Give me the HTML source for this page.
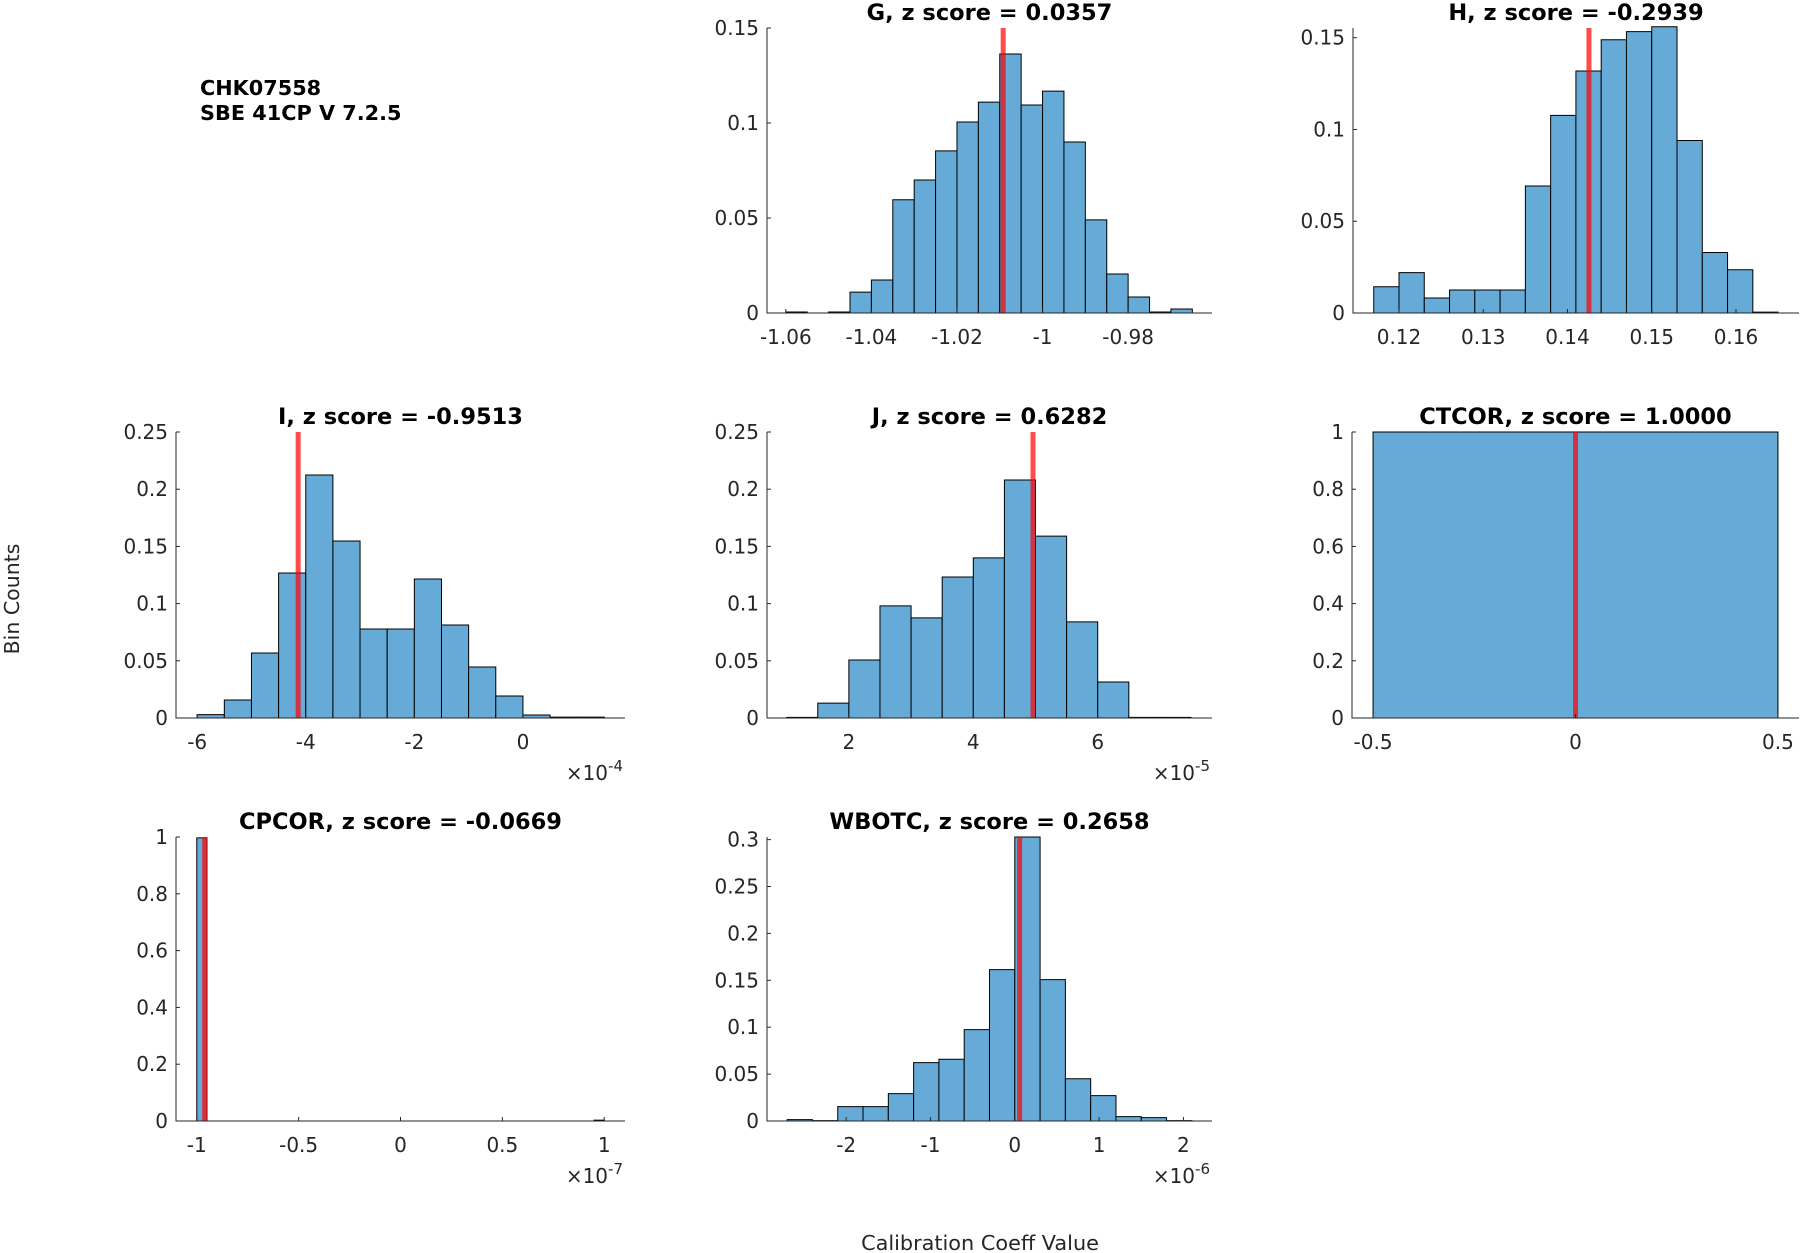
<!DOCTYPE html>
<html><head><meta charset="utf-8">
<style>
html,body{margin:0;padding:0;background:#fff;}
svg{display:block;font-family:"DejaVu Sans","Liberation Sans",sans-serif;}
</style></head>
<body>
<svg id="fig" width="1801" height="1253" viewBox="0 0 1801 1253" xmlns="http://www.w3.org/2000/svg">
<text x="200" y="95" font-size="20.8" font-weight="bold" fill="#000">CHK07558</text>
<text x="200" y="120" font-size="20.8" font-weight="bold" fill="#000">SBE 41CP V 7.2.5</text>
<text transform="translate(19,599) rotate(-90)" text-anchor="middle" font-size="20.5" fill="#262626">Bin Counts</text>
<text x="980" y="1250" text-anchor="middle" font-size="20.8" fill="#262626">Calibration Coeff Value</text>
</svg>
<script>
// ---- data ----
const gBinStart = -1.06, gBinWidth = 0.005;
const gValues = [0.0005,0,0.0005,0.011,0.0174,0.0596,0.070,0.0853,0.1005,0.111,0.1363,0.1095,0.1168,0.090,0.049,0.0205,0.0084,0.0005,0.0021];
const gRef = -1.0092;
const gXTicks = [-1.06,-1.04,-1.02,-1,-0.98];
const gXTickLabels = ["-1.06","-1.04","-1.02","-1","-0.98"];
const gYTicks = [0,0.05,0.1,0.15];
const gYTickLabels = ["0","0.05","0.1","0.15"];

const hBinStart = 0.117, hBinWidth = 0.003;
const hValues = [0.0143,0.022,0.0082,0.0125,0.0125,0.0125,0.0692,0.1077,0.1319,0.1489,0.1533,0.156,0.094,0.033,0.0236,0.0005];
const hRef = 0.14255;
const hXTicks = [0.12,0.13,0.14,0.15,0.16];
const hXTickLabels = ["0.12","0.13","0.14","0.15","0.16"];
const hYTicks = [0,0.05,0.1,0.15];
const hYTickLabels = ["0","0.05","0.1","0.15"];

const iBinStart = -6, iBinWidth = 0.5;
const iValues = [0.003,0.0157,0.0568,0.1267,0.2124,0.1547,0.0778,0.0778,0.1215,0.0813,0.0446,0.0192,0.0026,0.0008,0.0008];
const iRef = -4.14;
const iXTicks = [-6,-4,-2,0];
const iXTickLabels = ["-6","-4","-2","0"];
const iYTicks = [0,0.05,0.1,0.15,0.2,0.25];
const iYTickLabels = ["0","0.05","0.1","0.15","0.2","0.25"];

const jBinStart = 1.0, jBinWidth = 0.5;
const jValues = [0.0006,0.013,0.0507,0.098,0.0875,0.1233,0.14,0.208,0.159,0.084,0.0315,0.0006,0.0006];
const jRef = 4.96;
const jXTicks = [2,4,6];
const jXTickLabels = ["2","4","6"];
const jYTicks = [0,0.05,0.1,0.15,0.2,0.25];
const jYTickLabels = ["0","0.05","0.1","0.15","0.2","0.25"];

const ctBinStart = -0.5, ctBinWidth = 1;
const ctValues = [1];
const ctRef = 0;
const ctXTicks = [-0.5,0,0.5];
const ctXTickLabels = ["-0.5","0","0.5"];
const ctYTicks = [0,0.2,0.4,0.6,0.8,1];
const ctYTickLabels = ["0","0.2","0.4","0.6","0.8","1"];

const cpBinStart = -1, cpBinWidth = 0.05;
const cpValues = [0.997,0,0,0,0,0,0,0,0,0,0,0,0,0,0,0,0,0,0,0,0,0,0,0,0,0,0,0,0,0,0,0,0,0,0,0,0,0,0,0.003];
const cpRef = -0.961;
const cpXTicks = [-1,-0.5,0,0.5,1];
const cpXTickLabels = ["-1","-0.5","0","0.5","1"];
const cpYTicks = [0,0.2,0.4,0.6,0.8,1];
const cpYTickLabels = ["0","0.2","0.4","0.6","0.8","1"];

const wBinStart = -2.7, wBinWidth = 0.3;
const wValues = [0.0014,0.0004,0.0153,0.0153,0.0292,0.0622,0.0658,0.0974,0.1614,0.3028,0.1507,0.0451,0.027,0.0046,0.0036,0.0004];
const wRef = 0.057;
const wXTicks = [-2,-1,0,1,2];
const wXTickLabels = ["-2","-1","0","1","2"];
const wYTicks = [0,0.05,0.1,0.15,0.2,0.25,0.3];
const wYTickLabels = ["0","0.05","0.1","0.15","0.2","0.25","0.3"];

// ---- layout ----
const panels = [
 {id:'g', title:'G, z score = 0.0357', L:767,R:1212,T:28,B:313, xmin:-1.0644,xmax:-0.9604, ymax:0.15, bs:gBinStart,bw:gBinWidth,vals:gValues,ref:gRef,xt:gXTicks,xl:gXTickLabels,yt:gYTicks,yl:gYTickLabels,exp:null},
 {id:'h', title:'H, z score = -0.2939', L:1353,R:1799,T:28,B:313, xmin:0.11454,xmax:0.16748, ymax:0.1553, bs:hBinStart,bw:hBinWidth,vals:hValues,ref:hRef,xt:hXTicks,xl:hXTickLabels,yt:hYTicks,yl:hYTickLabels,exp:null},
 {id:'i', title:'I, z score = -0.9513', L:176,R:625,T:432,B:718, xmin:-6.39,xmax:1.88, ymax:0.25, bs:iBinStart,bw:iBinWidth,vals:iValues,ref:iRef,xt:iXTicks,xl:iXTickLabels,yt:iYTicks,yl:iYTickLabels,exp:'-4'},
 {id:'j', title:'J, z score = 0.6282', L:767,R:1212,T:432,B:718, xmin:0.684,xmax:7.837, ymax:0.25, bs:jBinStart,bw:jBinWidth,vals:jValues,ref:jRef,xt:jXTicks,xl:jXTickLabels,yt:jYTicks,yl:jYTickLabels,exp:'-5'},
 {id:'ctcor', title:'CTCOR, z score = 1.0000', L:1352,R:1799,T:432,B:718, xmin:-0.552,xmax:0.552, ymax:1, bs:ctBinStart,bw:ctBinWidth,vals:ctValues,ref:ctRef,xt:ctXTicks,xl:ctXTickLabels,yt:ctYTicks,yl:ctYTickLabels,exp:null},
 {id:'cpcor', title:'CPCOR, z score = -0.0669', L:176,R:625,T:837,B:1121, xmin:-1.102,xmax:1.102, ymax:1, bs:cpBinStart,bw:cpBinWidth,vals:cpValues,ref:cpRef,xt:cpXTicks,xl:cpXTickLabels,yt:cpYTicks,yl:cpYTickLabels,exp:'-7'},
 {id:'wbotc', title:'WBOTC, z score = 0.2658', L:767,R:1212,T:837,B:1121, xmin:-2.939,xmax:2.339, ymax:0.3028, bs:wBinStart,bw:wBinWidth,vals:wValues,ref:wRef,xt:wXTicks,xl:wXTickLabels,yt:wYTicks,yl:wYTickLabels,exp:'-6'}
];
const NS='http://www.w3.org/2000/svg';
const svg=document.getElementById('fig');
function mk(tag,attrs,parent){const e=document.createElementNS(NS,tag);for(const k in attrs)e.setAttribute(k,attrs[k]);(parent||svg).appendChild(e);return e;}

panels.forEach(p=>{
  const g=mk('g',{});
  
  
  const xs=v=>p.L+(v-p.xmin)/(p.xmax-p.xmin)*(p.R-p.L);
  const ys=v=>p.B-v/p.ymax*(p.B-p.T);
  p.vals.forEach((v,k)=>{
    const x0=xs(p.bs+k*p.bw), x1=xs(p.bs+(k+1)*p.bw), y=ys(v);
    const bar=mk('path',{d:`M${x0},${p.B}L${x0},${y}L${x1},${y}L${x1},${p.B}Z`,fill:'#66aad7',stroke:'#000','stroke-width':1},g);
    
    
  });
  const rx=xs(p.ref);
  const ref=mk('line',{x1:rx,x2:rx,y1:p.T,y2:p.B,stroke:'#ff0000','stroke-opacity':0.7,'stroke-width':5},g);
  
  
  const ax=mk('path',{d:`M${p.L},${p.T}L${p.L},${p.B}L${p.R},${p.B}`,fill:'none',stroke:'#262626','stroke-width':1},g);
  
  
  p.xt.forEach((v,k)=>{
    const x=xs(v);
    mk('line',{x1:x,x2:x,y1:p.B,y2:p.B-4,stroke:'#262626','stroke-width':1},g);
    const t=mk('text',{x:x,y:p.B+31,'text-anchor':'middle','font-size':20,fill:'#262626'},g);
    t.textContent=p.xl[k];
    
    
  });
  p.yt.forEach((v,k)=>{
    const y=ys(v);
    mk('line',{x1:p.L,x2:p.L+4,y1:y,y2:y,stroke:'#262626','stroke-width':1},g);
    const t=mk('text',{x:p.L-8,y:y+7,'text-anchor':'end','font-size':20,fill:'#262626'},g);
    t.textContent=p.yl[k];
    
    
  });
  const tt=mk('text',{x:(p.L+p.R)/2,y:p.T-8,'text-anchor':'middle','font-size':22.5,'font-weight':'bold',fill:'#000'},g);
  tt.textContent=p.title;
  
  
  if(p.exp){
    const e=mk('text',{x:p.R-2,y:p.B+62,'text-anchor':'end','font-size':20,fill:'#262626'},g);
    
    
    const a=mk('tspan',{},e); a.textContent='\u00d710';
    const b=mk('tspan',{dy:-9,'font-size':15},e); b.textContent=p.exp;
  }
});
</script>
</body></html>
